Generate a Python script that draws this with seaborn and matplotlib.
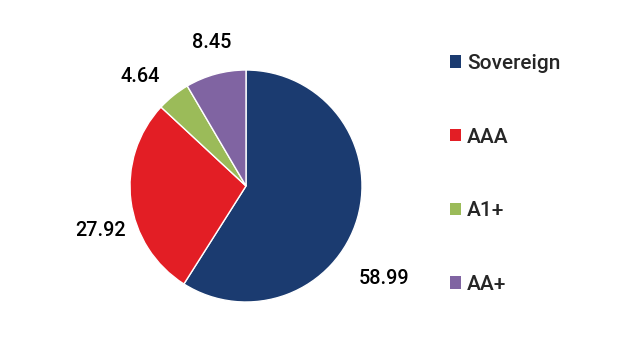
import matplotlib
matplotlib.use("Agg")
import matplotlib.pyplot as plt
from matplotlib.patches import Patch
import seaborn as sns

# data
ratings = ["Sovereign", "AAA", "A1+", "AA+"]
shares = [58.99, 27.92, 4.64, 8.45]
share_labels = ["58.99", "27.92", "4.64", "8.45"]
colours = ["#1b3b70", "#e31e25", "#9bbb59", "#8064a2"]

# label offsets in pie-radius units (layout only)
label_pos = [(1.19, -0.80), (-1.25, -0.38), (-0.91, 0.94), (-0.30, 1.24)]

sns.set_theme(style="white")
plt.rcParams["font.family"] = ["Roboto", "DejaVu Sans"]

fig = plt.figure(figsize=(6.42, 3.56), dpi=100)
W, H = 642, 356
cx, cy, r = 246, 186, 116
ax = fig.add_axes([(cx - r) / W, (H - cy - r) / H, 2 * r / W, 2 * r / H])

wedges, _ = ax.pie(shares, colors=colours, startangle=90, counterclock=False,
                   radius=1, wedgeprops=dict(edgecolor="white", linewidth=1))
ax.set_xlim(-1, 1)
ax.set_ylim(-1, 1)
ax.set_aspect("equal")
ax.axis("off")

for txt, (lx, ly) in zip(share_labels, label_pos):
    ax.text(lx, ly, txt, ha="center", va="center", fontsize=14.3, color="black",
            fontweight="medium", clip_on=False)

handles = [Patch(facecolor=c, edgecolor="none") for c in colours]
fig.legend(handles, ratings, loc="upper left", bbox_to_anchor=(450 / W, 1 - 54 / H),
           frameon=False, prop=dict(size=15, weight="medium"), labelspacing=2.62,
           handlelength=0.53, handleheight=0.53, handletextpad=0.28,
           borderaxespad=0, borderpad=0)

fig.savefig("out.png", dpi=100)
